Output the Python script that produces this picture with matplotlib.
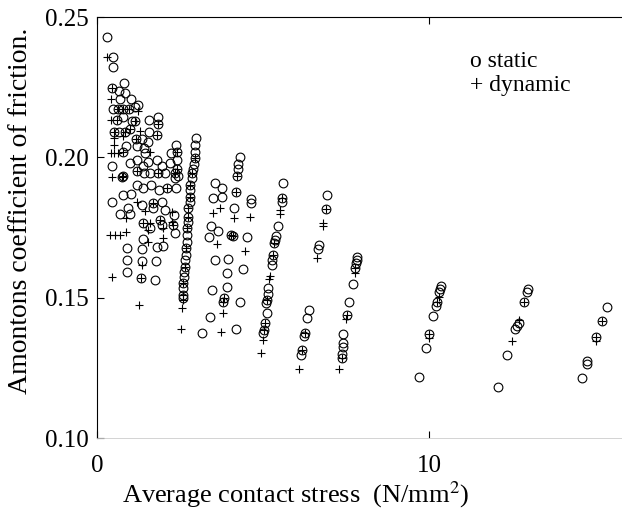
import matplotlib
matplotlib.use("Agg")
import matplotlib.pyplot as plt

plt.rcParams['font.family'] = ['Liberation Serif', 'DejaVu Serif']
plt.rcParams['mathtext.fontset'] = 'stix'

# static friction (open circles)
static_x = [
    0.31, 0.49, 0.47, 0.82, 0.44, 0.67, 0.84, 0.69, 1.01, 1.24, 0.47, 0.64, 0.79, 0.97, 1.14,
    0.61, 0.79, 1.04, 1.14, 1.57, 1.85, 1.85, 0.51, 0.67, 0.84, 0.99, 1.57, 1.80, 1.16, 1.34,
    1.54, 0.79, 0.86, 1.20, 1.40, 1.45, 2.38, 2.40, 2.22, 0.44, 0.79, 1.00, 1.19, 1.39, 1.54,
    1.80, 1.95, 2.20, 2.40, 2.40, 2.45, 2.35, 0.74, 1.19, 1.19, 1.40, 1.60, 1.85, 2.05, 2.35,
    0.79, 1.01, 1.39, 1.64, 1.88, 2.10, 2.38, 0.69, 0.94, 1.00, 1.34, 1.70, 1.70, 1.96, 2.05,
    2.32, 2.30, 2.35, 1.37, 1.90, 1.95, 1.60, 0.44,
    0.89, 0.91, 0.89, 1.34, 1.34, 1.31, 1.78, 1.75, 1.82, 2.00, 1.38,
    2.98, 2.95, 2.95, 2.95, 2.93, 2.90, 2.85, 2.85, 2.80, 2.80, 2.80, 2.80, 2.75, 2.75, 2.75,
    2.70, 2.70, 2.70, 2.68, 2.68, 2.65, 2.65, 2.62, 2.62, 2.60, 2.60, 2.58, 2.58,
    3.55, 3.75, 3.50, 3.75, 4.31, 4.25, 4.25, 4.23, 4.19, 4.13, 4.09, 3.42, 3.65, 3.38, 4.03,
    4.63, 4.63, 4.51, 3.55, 3.95, 3.90, 4.41, 3.90, 3.47, 3.83, 3.80, 4.31, 3.40, 3.15, 4.19,
    5.61, 5.56, 5.56, 5.44, 5.39, 5.36, 5.33, 5.29, 5.28, 5.26, 5.16, 5.14, 5.11, 5.10, 5.11,
    5.06, 5.03, 5.01,
    6.37, 6.31, 6.27, 6.24, 6.17, 6.13,
    6.94, 6.89, 6.67, 6.66,
    7.84, 7.82, 7.80, 7.78, 7.70, 7.59, 7.52, 7.42, 7.42, 7.40, 7.38, 7.37,
    10.36, 10.33, 10.30, 10.25, 10.21, 10.13, 10.01, 9.91, 9.70,
    12.97, 12.94, 12.86, 12.70, 12.66, 12.59, 12.36, 12.08,
    15.35, 15.20, 15.03, 14.77, 14.75, 14.60,
]
static_y = [
    0.2428, 0.2359, 0.2321, 0.2266, 0.2246, 0.2238, 0.2228, 0.2208, 0.2208, 0.2187, 0.2171, 0.2171, 0.2171, 0.2171, 0.2180,
    0.2133, 0.2145, 0.2130, 0.2130, 0.2133, 0.2143, 0.2120, 0.2092, 0.2092, 0.2092, 0.2100, 0.2092, 0.2080, 0.2065, 0.2065,
    0.2056, 0.2020, 0.2040, 0.2040, 0.2035, 0.2015, 0.2044, 0.2020, 0.2017, 0.1969, 0.1934, 0.1980, 0.1990, 0.1970, 0.1985,
    0.1990, 0.1970, 0.1980, 0.1990, 0.1960, 0.1935, 0.1925, 0.1931, 0.1950, 0.1900, 0.1945, 0.1945, 0.1945, 0.1945, 0.1945,
    0.1866, 0.1870, 0.1890, 0.1900, 0.1884, 0.1890, 0.1890, 0.1800, 0.1820, 0.1800, 0.1830, 0.1836, 0.1820, 0.1840, 0.1812,
    0.1795, 0.1760, 0.1730, 0.1765, 0.1777, 0.1760, 0.1750, 0.1842,
    0.1676, 0.1634, 0.1593, 0.1672, 0.1632, 0.1569, 0.1632, 0.1563, 0.1680, 0.1684, 0.1710,
    0.2068, 0.2045, 0.2020, 0.1997, 0.1975, 0.1960, 0.1943, 0.1925, 0.1901, 0.1884, 0.1860, 0.1842, 0.1818, 0.1789, 0.1771,
    0.1747, 0.1723, 0.1700, 0.1676, 0.1652, 0.1634, 0.1610, 0.1593, 0.1575, 0.1551, 0.1533, 0.1510, 0.1498,
    0.1907, 0.1890, 0.1854, 0.1858, 0.2002, 0.1975, 0.1960, 0.1934, 0.1878, 0.1818, 0.1720, 0.1755, 0.1739, 0.1715, 0.1723,
    0.1836, 0.1850, 0.1717, 0.1634, 0.1637, 0.1587, 0.1601, 0.1539, 0.1527, 0.1498, 0.1486, 0.1486, 0.1432, 0.1373, 0.1387,
    0.1907, 0.1854, 0.1840, 0.1755, 0.1720, 0.1705, 0.1694, 0.1652, 0.1635, 0.1617, 0.1533, 0.1515, 0.1492, 0.1480, 0.1444,
    0.1409, 0.1385, 0.1373,
    0.1456, 0.1427, 0.1375, 0.1362, 0.1314, 0.1296,
    0.1866, 0.1815, 0.1688, 0.1675,
    0.1646, 0.1635, 0.1624, 0.1605, 0.1549, 0.1484, 0.1438, 0.1371, 0.1340, 0.1325, 0.1300, 0.1284,
    0.1543, 0.1530, 0.1520, 0.1486, 0.1470, 0.1435, 0.1371, 0.1322, 0.1219,
    0.1530, 0.1519, 0.1485, 0.1409, 0.1400, 0.1387, 0.1296, 0.1183,
    0.1466, 0.1418, 0.1359, 0.1276, 0.1264, 0.1215,
]

# dynamic friction (plus signs)
dyn_x = [
    0.31, 0.44, 0.41, 0.64, 0.79, 0.97, 1.24, 0.41, 0.61, 1.14, 1.85, 0.51, 0.84, 0.99, 1.30,
    1.80, 0.51, 0.79, 1.16, 0.51, 0.41, 0.51, 0.64, 0.79, 1.60, 2.40, 0.44, 0.79, 0.74, 1.19,
    1.85, 2.35, 2.40, 2.10, 1.70, 1.19, 1.45, 2.25, 2.25, 2.30, 1.60, 1.37, 1.90, 1.98, 0.87,
    1.55, 0.39, 0.54, 0.69, 0.87, 1.98, 1.34, 1.31, 0.44, 1.27, 1.55,
    2.95, 2.85, 2.80, 2.80, 2.75, 2.75, 2.70, 2.68, 2.65, 2.60, 2.58, 2.58, 2.55, 2.52,
    3.70, 3.48, 3.61, 4.23, 4.19, 4.13, 4.03, 4.09, 4.60, 4.46, 3.83, 3.80, 3.78, 3.73,
    5.56, 5.51, 5.50, 5.33, 5.29, 5.21, 5.19, 5.11, 5.06, 5.03, 4.99, 4.93,
    6.27, 6.17, 6.09,
    6.89, 6.82, 6.80, 6.62,
    7.78, 7.76, 7.52, 7.50, 7.37, 7.30,
    10.29, 10.25, 10.01, 10.01,
    12.86, 12.72, 12.49,
    15.20, 15.03, 15.02,
]
dyn_y = [
    0.2356, 0.2246, 0.2208, 0.2171, 0.2171, 0.2171, 0.2165, 0.2133, 0.2133, 0.2130, 0.2120, 0.2092, 0.2092, 0.2100, 0.2095,
    0.2080, 0.2070, 0.2075, 0.2065, 0.2044, 0.2014, 0.2014, 0.2014, 0.2020, 0.2020, 0.2020, 0.1931, 0.1934, 0.1931, 0.1950,
    0.1945, 0.1945, 0.1960, 0.1890, 0.1836, 0.1840, 0.1810, 0.1806, 0.1771, 0.1760, 0.1765, 0.1765, 0.1777, 0.1748, 0.1783,
    0.1740, 0.1723, 0.1723, 0.1723, 0.1735, 0.1712, 0.1617, 0.1569, 0.1573, 0.1474, 0.1700,
    0.1997, 0.1943, 0.1901, 0.1860, 0.1818, 0.1789, 0.1747, 0.1676, 0.1610, 0.1551, 0.1510, 0.1492, 0.1462, 0.1387,
    0.1818, 0.1803, 0.1691, 0.1934, 0.1878, 0.1783, 0.1723, 0.1720, 0.1789, 0.1666, 0.1498, 0.1486, 0.1444, 0.1379,
    0.1854, 0.1812, 0.1800, 0.1694, 0.1652, 0.1577, 0.1565, 0.1492, 0.1409, 0.1385, 0.1349, 0.1302,
    0.1375, 0.1314, 0.1245,
    0.1815, 0.1767, 0.1755, 0.1640,
    0.1605, 0.1589, 0.1438, 0.1425, 0.1284, 0.1245,
    0.1504, 0.1486, 0.1371, 0.1355,
    0.1485, 0.1420, 0.1347,
    0.1418, 0.1359, 0.1345,
]

fig = plt.figure(figsize=(6.22, 5.16), dpi=100)
ax = fig.add_axes([0.156, 0.151, 0.844, 0.816])

ax.plot(static_x, static_y, linestyle='none', marker='o', markersize=6.3,
        markerfacecolor='none', markeredgecolor='black', markeredgewidth=0.8)
ax.plot(dyn_x, dyn_y, linestyle='none', marker='+', markersize=6.3,
        color='black', markeredgewidth=0.8)

ax.set_xlim(0, 15.81)
ax.set_ylim(0.10, 0.25)
ax.set_xticks([0, 10])
ax.set_yticks([0.10, 0.15, 0.20, 0.25])
ax.set_yticklabels(['0.10', '0.15', '0.20', '0.25'])
ax.tick_params(axis='both', direction='in', length=5, width=0.8, labelsize=18)
ax.tick_params(axis='x', top=True, pad=12)
ax.tick_params(axis='y', pad=6)

ax.spines['right'].set_visible(False)
ax.spines['bottom'].set_color('#cccccc')
ax.spines['bottom'].set_linewidth(0.6)

# the scan is cropped on the right, so the labels sit left of the axes centre
ax.set_xlabel(r'Average contact stress  (N/mm$^2$)', fontsize=19)
ax.xaxis.set_label_coords(0.378, -0.098)
ax.set_ylabel('Amontons coefficient of friction.', fontsize=20)
ax.yaxis.set_label_coords(-0.122, 0.54)

ax.text(0.71, 0.895, 'o static', transform=ax.transAxes, fontsize=17, va='center')
ax.text(0.71, 0.838, '+ dynamic', transform=ax.transAxes, fontsize=17, va='center')

fig.savefig('out.png', dpi=100)
